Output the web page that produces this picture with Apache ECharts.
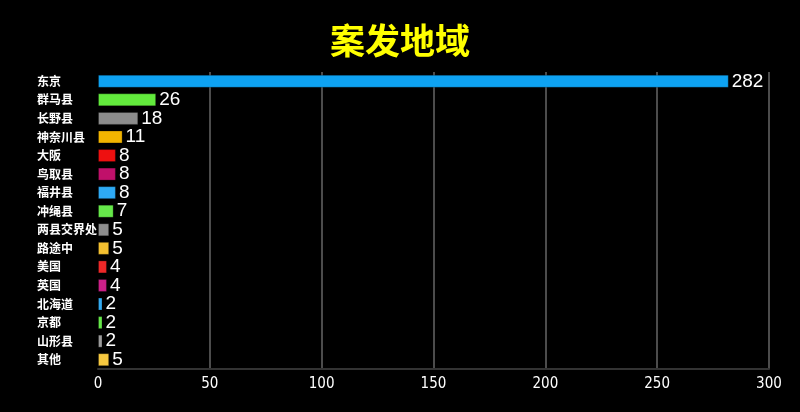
<!DOCTYPE html>
<html><head><meta charset="utf-8">
<script src="https://cdn.jsdelivr.net/npm/echarts@6/dist/echarts.min.js"></script>
<style>html,body{margin:0;padding:0;background:#000;}#c{width:800px;height:412px;}</style>
</head><body><div id="c"></div>
<script>
const categories = ['东京','群马县','长野县','神奈川县','大阪','鸟取县','福井县','冲绳县','两县交界处','路途中','美国','英国','北海道','京都','山形县','其他'];
const values = [282,26,18,11,8,8,8,7,5,5,4,4,2,2,2,5];
const colors = ['#0ea2f2','#62ea3c','#8c8c8c','#f2b400','#ee1010','#c0106a','#2eaaf5','#66e84a','#8e8e8e','#f4c030','#ee2828','#cc2088','#33aaf0','#66e84a','#9a9a9a','#f6c840'];
const xTicks = [0,50,100,150,200,250,300];

const chart = echarts.init(document.getElementById('c'));
chart.setOption({
  backgroundColor:'#000',
  title:{text:'案发地域',left:'center',top:18,textStyle:{color:'#ffff00',fontSize:35,fontWeight:'bold',fontFamily:'Noto Sans CJK SC'}},
  grid:{left:98,right:31,top:72,bottom:43},
  xAxis:{type:'value',min:xTicks[0],max:xTicks[xTicks.length-1],interval:50,
    axisLine:{show:true,lineStyle:{color:'#333',width:2}},axisTick:{show:false},
    splitLine:{show:true,showMinLine:false,lineStyle:{color:'#666',width:1.5}},
    axisLabel:{color:'#fff',fontSize:15,margin:8,fontFamily:'Liberation Sans Narrow, DejaVu Sans Condensed, sans-serif'}},
  yAxis:{type:'category',data:categories,inverse:true,
    axisLine:{show:false},axisTick:{show:false},
    axisLabel:{color:'#fff',fontSize:12,fontWeight:'bold',align:'left',margin:61,fontFamily:'Noto Sans CJK SC'}},
  series:[{type:'bar',data:values.map((v,i)=>({value:v,itemStyle:{color:colors[i]}})),
    barWidth:13,
    itemStyle:{borderColor:'rgba(0,0,0,0.25)',borderWidth:1},
    label:{show:true,position:'right',distance:3,color:'#fff',fontSize:19,fontFamily:'Liberation Sans, Arial, sans-serif'}}]
});
</script></body></html>
